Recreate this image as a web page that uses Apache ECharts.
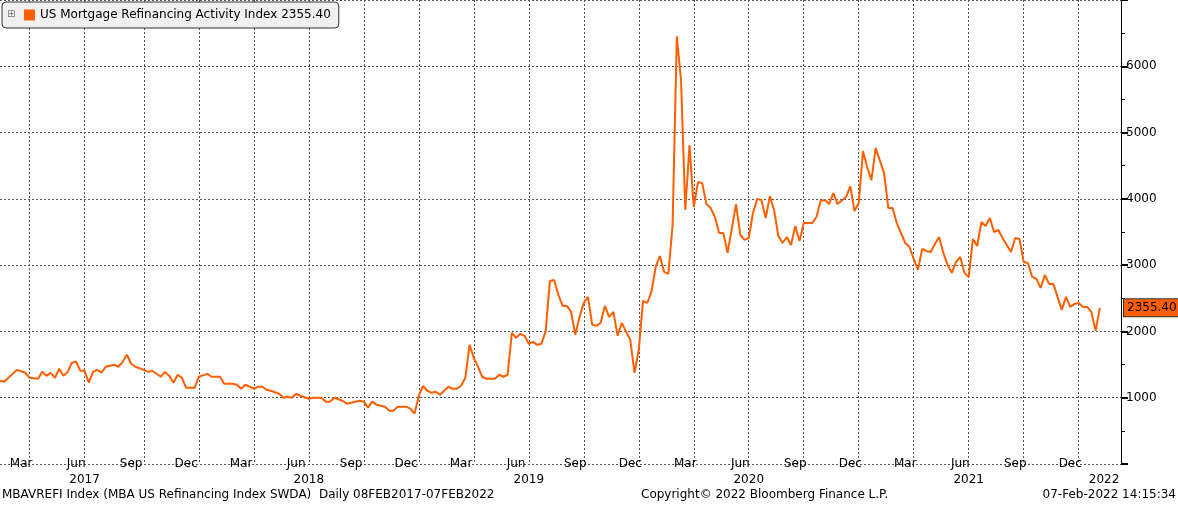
<!DOCTYPE html>
<html><head><meta charset="utf-8">
<script src="https://cdn.jsdelivr.net/npm/echarts@6/dist/echarts.min.js"></script>
<style>html,body{margin:0;padding:0;background:#fff}#c{width:1178px;height:505px}</style>
</head><body><div id="c"></div>
<script>
// weekly observations: [week index from 2017-02-08, value]
const startDate = '2017-02-08';
const weekCount = 266;
const obs = [
[0,1256],[1,1240],[4,1420],[6,1376],[7,1300],[9,1286],[10,1390],[11,1330],[12,1376],[13,1300],[14,1437],[15,1330],[16,1390],[17,1527],[18,1542],[19,1406],[20,1406],[21,1226],[22,1390],[23,1420],[24,1376],[25,1467],[27,1497],[28,1467],[29,1542],[30,1648],[31,1512],[32,1467],[34,1420],[35,1390],[36,1406],[38,1316],[39,1390],[40,1330],[41,1226],[42,1346],[43,1300],[44,1150],[46,1150],[47,1316],[49,1360],[50,1316],[52,1316],[53,1210],[55,1210],
[56,1196],[57,1135],[58,1196],[60,1135],[61,1165],[62,1165],[63,1120],[64,1105],[66,1060],[67,1000],[68,1015],[69,1000],[70,1060],[71,1030],[73,985],[74,1000],[76,1000],[77,940],[78,940],[79,1000],[81,955],[82,910],[84,940],[85,955],[86,940],[87,850],[88,940],[89,895],[91,865],[92,805],[93,805],[94,865],[96,865],[97,835],[98,760],[99,1030],[100,1180],[101,1105],[102,1075],[103,1090],[104,1045],[106,1165],[107,1135],[108,1135],[109,1180],[110,1300],
[111,1798],[112,1602],[113,1467],[114,1316],[115,1286],[116,1286],[117,1286],[118,1346],[119,1316],[120,1346],[121,1979],[122,1904],[123,1964],[124,1934],[125,1813],[126,1843],[127,1798],[128,1813],[129,2009],[130,2762],[131,2777],[132,2551],[133,2385],[134,2385],[135,2295],[136,1949],[137,2220],[138,2431],[139,2521],[140,2100],[141,2084],[142,2130],[143,2385],[144,2220],[145,2295],[146,1934],[147,2130],[148,1994],[149,1874],[150,1376],[151,1723],[152,2461],[153,2431],[154,2596],[155,2973],[156,3138],[157,2898],[158,2868],[159,3606],[160,6452],[161,5789],[162,3831],[163,4810],[164,3877],[165,4253],[166,4238],[167,3921],[168,3861],[169,3726],[170,3485],[171,3485],[172,3184],
[174,3921],[175,3455],[176,3380],[177,3410],[178,3786],[179,3997],[180,3982],[181,3711],[182,4042],[183,3831],[184,3440],[185,3334],[186,3425],[187,3304],[188,3590],[189,3364],[190,3635],[191,3635],[192,3635],[193,3726],[194,3967],[195,3982],[196,3921],[197,4087],[198,3921],[200,4027],[201,4193],[202,3816],[203,3937],[204,4720],[205,4479],[206,4283],[207,4765],[209,4388],[210,3861],[211,3861],[212,3635],[213,3485],[214,3334],[215,3274],[216,3093],[217,2928],[218,3244],[219,3214],[220,3199],[221,3319],[222,3425],[223,3184],[224,3003],[225,2883],[226,3048],[227,3123],[228,2883],[229,2822],[230,3395],[231,3289],[232,3650],[233,3590],[234,3711],[235,3500],[236,3530],[237,3410],[238,3304],[239,3199],[240,3410],[241,3395],[242,3048],[243,3033],[244,2822],[245,2792],[246,2657],[247,2852],[248,2717],[249,2717],
[251,2325],[252,2521],[253,2370],[254,2415],[255,2431],[256,2370],[257,2370],[258,2295],[259,2009],[260,2355.4]
];
const lastValue = 2355.40;
const yTicks = [1000,2000,3000,4000,5000,6000];
const seriesName = 'US Mortgage Refinancing Activity Index 2355.40';

const DAY = 86400000;
const cats = [];
const d0 = new Date(startDate + 'T00:00:00Z');
for (let i = 0; i < weekCount; i++) cats.push(new Date(d0.getTime() + i * 7 * DAY).toISOString().slice(0, 10));
const vals = new Array(weekCount).fill(null);
obs.forEach(([i, v]) => vals[i] = v);
const MN = ['Jan','Feb','Mar','Apr','May','Jun','Jul','Aug','Sep','Oct','Nov','Dec'];
const t = s => new Date(s + 'T00:00:00Z').getTime();
function near(i, months, dayOfMonth) {
  const ts = t(cats[i]);
  const y = +cats[i].slice(0, 4);
  for (let yy = y - 1; yy <= y + 1; yy++) for (const m of months) {
    const ref = Date.UTC(yy, m - 1, dayOfMonth);
    const diff = (ts - ref) / DAY;
    if (diff >= -3.5 && diff < 3.5) return true;
  }
  return false;
}
const isLabel = i => near(i, [3,6,9,12], 15);
const isSplit = i => near(i, [1,4,7,10], 1);
const isYear = i => near(i, [7], 1) || cats[i] === '2022-02-09';

const FONT = 'DejaVu Sans';
const chart = echarts.init(document.getElementById('c'));
chart.setOption({
  backgroundColor: '#ffffff',
  animation: false,
  textStyle: { fontFamily: FONT },
  grid: { left: 0, right: 57, top: 0, bottom: 41, containLabel: false },
  legend: {
    left: 2, top: 2, padding: [7, 8, 7, 22],
    backgroundColor: '#f0f0f0', borderColor: '#333', borderWidth: 1, borderRadius: 4,
    icon: 'rect', itemWidth: 11, itemHeight: 11, itemGap: 4,
    textStyle: { fontFamily: FONT, fontSize: 12, color: '#000' },
    data: [seriesName]
  },
  xAxis: [{
    type: 'category', data: cats, boundaryGap: false,
    axisLine: { show: false }, axisTick: { show: false },
    axisLabel: { interval: i => isLabel(i), formatter: v => MN[+v.slice(5, 7) - 1], color: '#000', fontSize: 12, margin: -6, fontFamily: FONT },
    splitLine: { show: true, interval: i => isSplit(i), lineStyle: { color: '#555', type: [2, 2], width: 1 } }
  }, {
    type: 'category', data: cats, boundaryGap: false, position: 'bottom', gridIndex: 0,
    axisLine: { show: false }, axisTick: { show: false }, splitLine: { show: false },
    axisLabel: { interval: i => isYear(i), formatter: v => v.slice(0, 4), color: '#000', fontSize: 12, margin: 10, fontFamily: FONT }
  }],
  yAxis: {
    type: 'value', position: 'right', min: 0, max: 7000, interval: 1000,
    axisLine: { show: true, lineStyle: { color: '#000', width: 1 } },
    axisTick: { show: true, length: 7, lineStyle: { color: '#000', width: 2 } },
    minorTick: { show: true, splitNumber: 2, length: 4, lineStyle: { color: '#000' } },
    axisLabel: { margin: 5, color: '#000', fontSize: 12, fontFamily: FONT, formatter: v => yTicks.includes(v) ? String(v) : '' },
    splitLine: { show: true, lineStyle: { color: '#555', type: [2, 2], width: 1 } }
  },
  series: [{
    name: seriesName, type: 'line', data: vals, connectNulls: true, showSymbol: false, symbol: 'none',
    itemStyle: { color: '#ff5f00' },
    lineStyle: { color: '#ff5f00', width: 2 },
    markLine: {
      silent: true, symbol: 'none', lineStyle: { color: 'rgba(0,0,0,0)', width: 0, type: 'solid' },
      data: [{ yAxis: lastValue }],
      label: { show: true, position: 'end', distance: 3, formatter: lastValue.toFixed(2),
        backgroundColor: '#ff5f00', color: '#000', fontSize: 12, fontFamily: FONT,
        padding: [3, 3, 2, 3], borderColor: '#333', borderWidth: 1 }
    }
  }],
  graphic: [
    { type: 'text', left: 7, top: 9, z: 100, style: { text: '⊞', fontSize: 10, fill: '#777', fontFamily: FONT } },
    { type: 'text', left: 2, top: 489, style: { text: 'MBAVREFI Index (MBA US Refinancing Index SWDA)  Daily 08FEB2017-07FEB2022', fontSize: 12, fill: '#000', fontFamily: FONT } },
    { type: 'text', left: 641, top: 489, style: { text: 'Copyright© 2022 Bloomberg Finance L.P.', fontSize: 12, fill: '#000', fontFamily: FONT } },
    { type: 'text', right: 2, top: 489, style: { text: '07-Feb-2022 14:15:34', fontSize: 12, fill: '#000', fontFamily: FONT } }
  ]
});
</script></body></html>
